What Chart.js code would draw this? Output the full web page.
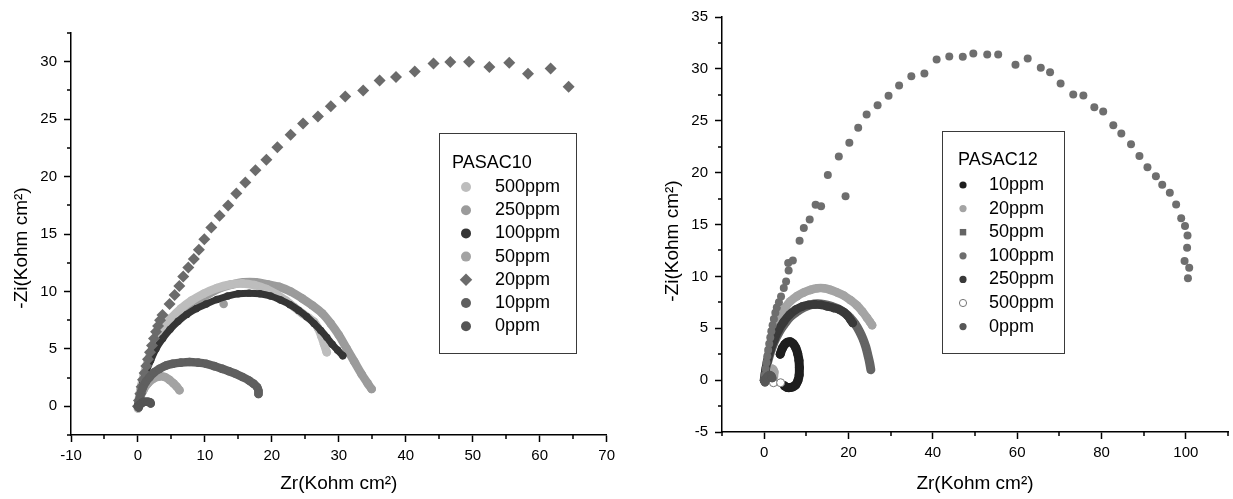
<!DOCTYPE html>
<html><head><meta charset="utf-8">
<script src="https://cdn.jsdelivr.net/npm/chart.js@4.4.1/dist/chart.umd.min.js"></script>
<style>
html,body{margin:0;padding:0;background:#fff;}
#wrap{position:relative;width:1233px;height:499px;overflow:hidden;background:#fff;}
#c1{position:absolute;left:0;top:0;}
#c2{position:absolute;left:620px;top:0;}
</style></head><body>
<div id="wrap"><canvas id="c1" width="620" height="499"></canvas><canvas id="c2" width="613" height="499"></canvas></div>
<script>
// ---------- LEFT CHART DATA (PASAC10) ----------
const leftTitle = 'PASAC10';
const leftXTicks = [-10, 0, 10, 20, 30, 40, 50, 60, 70];
const leftXMinor = [-5, 5, 15, 25, 35, 45, 55, 65];
const leftYTicks = [0, 5, 10, 15, 20, 25, 30];
const leftYMinor = [-2.5, 2.5, 7.5, 12.5, 17.5, 22.5, 27.5, 32.5];
const leftLabels = ['500ppm', '250ppm', '100ppm', '50ppm', '20ppm', '10ppm', '0ppm'];
const left500 = [[0,-0.2],[0.2,0.9],[0.5,1.8],[0.9,2.8],[1.4,3.8],[2.0,4.8],[2.8,5.8],[3.8,6.8],[5.0,7.7],[6.4,8.5],[8.0,9.2],[9.8,9.8],[11.8,10.3],[13.8,10.6],[15.6,10.7],[17.4,10.55],[19.2,10.2],[20.8,9.7],[22.1,9.2],[23.3,8.65],[24.5,8.1],[25.5,7.7],[26.3,7.35],[26.9,6.8],[27.4,6.1],[27.8,5.4],[28.2,4.7]];
const left250 = [[0,0],[0.4,1.4],[1.0,2.8],[1.7,4.0],[2.5,5.1],[3.5,6.1],[4.7,7.0],[6.0,7.8],[7.4,8.5],[9.0,9.2],[10.6,9.8],[12.3,10.3],[14.0,10.6],[15.8,10.8],[17.6,10.8],[19.4,10.6],[21.1,10.4],[22.8,10.0],[24.5,9.4],[26.0,8.8],[27.5,8.1],[28.8,7.2],[30.0,6.2],[31.2,5.0],[32.3,3.9],[33.4,2.8],[34.3,2.0],[34.9,1.5],[12.8,null],[12.8,8.9]];
const left100 = [[0,0],[0.3,1.0],[0.7,2.0],[1.2,3.0],[1.9,4.0],[2.7,5.0],[3.7,5.9],[4.8,6.7],[6.0,7.4],[7.3,8.0],[8.7,8.5],[10.2,8.9],[11.8,9.3],[13.4,9.6],[15.0,9.8],[16.6,9.85],[18.2,9.8],[19.8,9.6],[21.3,9.25],[22.7,8.85],[24.0,8.35],[25.2,7.8],[26.3,7.2],[27.3,6.6],[28.2,6.0],[29.0,5.4],[29.8,4.9],[30.6,4.4]];
const left50 = [[0,0],[0.3,0.7],[0.8,1.4],[1.5,2.0],[2.3,2.4],[3.2,2.6],[4.0,2.55],[4.7,2.3],[5.3,2.0],[5.8,1.7],[6.2,1.4]];
const left20 = [[0,0],[0.15,0.5],[0.35,1.1],[0.55,1.7],[0.75,2.3],[1.0,2.9],[1.25,3.5],[1.5,4.1],[1.8,4.7],[2.1,5.3],[2.4,5.9],[2.7,6.5],[3.0,7.0],[3.3,7.5],[3.67,7.94],[4.72,8.9],[5.48,9.69],[6.18,10.47],[6.76,11.29],[7.52,12.08],[8.34,12.83],[9.1,13.62],[9.91,14.55],[10.96,15.57],[12.19,16.58],[13.47,17.49],[14.69,18.53],[16.03,19.49],[17.55,20.54],[19.18,21.47],[20.82,22.55],[22.8,23.65],[24.66,24.61],[26.88,25.23],[28.8,26.13],[30.96,26.97],[33.64,27.49],[36.09,28.37],[38.54,28.66],[41.34,29.15],[44.14,29.85],[46.65,29.97],[49.45,30.0],[52.48,29.53],[55.45,29.91],[58.25,28.95],[61.63,29.42],[64.32,27.81]];
const left10 = [[0,0],[0.3,0.8],[0.75,1.66],[1.2,2.15],[1.73,2.53],[2.4,2.95],[3.2,3.26],[4.2,3.55],[5.2,3.7],[6.4,3.8],[7.7,3.85],[9.0,3.8],[10.2,3.7],[11.4,3.5],[12.6,3.26],[13.6,3.05],[14.6,2.83],[15.6,2.55],[16.6,2.24],[17.3,1.95],[17.8,1.66],[18.0,1.35],[18.0,1.08]];
const left0 = [[0,0],[0.1,-0.1],[0.3,0.15],[0.6,0.3],[0.9,0.38],[1.2,0.4],[1.5,0.4],[1.8,0.35],[1.9,0.25]];

// ---------- RIGHT CHART DATA (PASAC12) ----------
const rightTitle = 'PASAC12';
const rightXTicks = [0, 20, 40, 60, 80, 100];
const rightXMinor = [-10, 10, 30, 50, 70, 90, 110];
const rightYTicks = [-5, 0, 5, 10, 15, 20, 25, 30, 35];
const rightYMinor = [-2.5, 2.5, 7.5, 12.5, 17.5, 22.5, 27.5, 32.5];
const rightLabels = ['10ppm', '20ppm', '50ppm', '100ppm', '250ppm', '500ppm', '0ppm'];
const right10 = [[3.8,2.5],[4.3,3.05],[4.9,3.45],[5.5,3.65],[6.2,3.7],[6.9,3.5],[7.5,3.1],[7.95,2.55],[8.25,1.9],[8.35,1.2],[8.3,0.5],[8.0,-0.05],[7.5,-0.45],[6.8,-0.65],[6.1,-0.72],[5.4,-0.7],[4.8,-0.55]];
const right20 = [[0,0],[0.4,1.2],[1.0,2.5],[1.8,3.8],[2.8,5.2],[3.9,6.3],[5.0,7.0],[6.2,7.6],[7.8,8.1],[9.4,8.45],[11.0,8.7],[12.6,8.85],[14.2,8.85],[15.7,8.7],[17.3,8.45],[18.9,8.15],[20.5,7.7],[22.0,7.2],[23.3,6.6],[24.4,6.0],[25.1,5.6],[25.6,5.3],[1.2,null],[1.2,0.9],[1.9,1.1],[2.4,0.8],[2.3,0.3]];
const right50 = [[0,0],[0.3,0.8],[0.8,1.7],[1.5,2.7],[2.4,3.7],[3.5,4.6],[4.8,5.4],[6.2,6.1],[7.8,6.6],[9.4,7.0],[11.0,7.25],[12.6,7.35],[14.2,7.3],[15.8,7.15],[17.4,6.9],[19.0,6.5],[20.4,6.0],[21.6,5.4],[22.6,4.7],[23.4,4.0],[24.1,3.2],[24.6,2.4],[25.0,1.7],[25.3,1.0]];
const right100 = [[0,0],[0.15,0.5],[0.35,1.1],[0.55,1.7],[0.75,2.3],[0.95,2.9],[1.2,3.5],[1.45,4.1],[1.7,4.7],[2.0,5.3],[2.3,5.9],[2.65,6.5],[3.0,7.0],[3.5,7.5],[4.0,8.06],[4.65,8.87],[5.2,9.51],[5.8,10.57],[5.7,11.28],[6.8,11.54],[8.4,13.44],[9.4,14.67],[10.8,15.47],[12.2,16.9],[13.5,16.76],[15.1,19.76],[19.3,17.73],[17.7,21.55],[20.2,22.89],[22.3,24.33],[24.3,25.6],[26.9,26.5],[29.5,27.4],[32.0,28.4],[34.9,29.3],[38.0,29.55],[40.9,30.9],[43.9,31.2],[47.1,31.16],[49.6,31.48],[52.9,31.38],[55.5,31.38],[59.6,30.39],[62.5,31.0],[65.6,30.1],[67.8,29.68],[70.3,28.6],[73.3,27.54],[75.7,27.44],[78.3,26.3],[80.4,25.9],[82.8,24.56],[84.7,23.76],[87.0,22.73],[89.0,21.6],[90.9,20.53],[92.9,19.66],[94.4,18.83],[96.2,18.05],[97.7,16.92],[98.9,15.6],[99.8,14.86],[100.4,13.93],[100.3,12.77],[99.7,11.48],[100.8,10.83],[100.5,9.83]];
const right250 = [[0,0],[0.3,0.9],[0.8,1.9],[1.5,2.9],[2.4,3.9],[3.4,4.8],[4.6,5.6],[6.0,6.3],[7.5,6.8],[9.0,7.1],[10.5,7.25],[12.0,7.3],[13.5,7.25],[15.0,7.1],[16.5,6.95],[17.8,6.8],[18.9,6.55],[19.8,6.2],[20.5,5.8],[21.0,5.5]];
const right500 = [[0.5,0.1],[2.2,-0.25],[3.9,-0.25]];
const right0 = [[0,0],[0.2,-0.2],[0.5,0.2],[0.9,0.4],[1.3,0.5],[1.7,0.4],[1.9,0.2]];

// ---------- helpers ----------
const FONT = '"Liberation Sans", Arial, Helvetica, sans-serif';
const AXIS_X_TITLE = 'Zr(Kohm cm²)';
const AXIS_Y_TITLE = '-Zi(Kohm cm²)';
const pts = a => a.map(p => ({x: p[0], y: p[1]}));

function band(label, data, color, r, order, lw) {
  return {label, data: pts(data), showLine: true, borderColor: color, backgroundColor: color,
    borderWidth: lw, pointRadius: r, pointHoverRadius: r, pointBorderWidth: 0, pointStyle: 'circle',
    tension: 0.35, borderCapStyle: 'round', borderJoinStyle: 'round', spanGaps: false, order};
}
function dots(label, data, color, r, style, order, border, bw) {
  return {label, data: pts(data), showLine: false, backgroundColor: color, borderColor: border || color,
    pointRadius: r, pointHoverRadius: r, pointBorderWidth: bw || 0, pointStyle: style, order};
}

function drawMarker(ctx, style, x, y, r, fill, stroke, bw) {
  ctx.beginPath();
  if (style === 'rectRot') {
    ctx.moveTo(x - r, y); ctx.lineTo(x, y - r); ctx.lineTo(x + r, y); ctx.lineTo(x, y + r); ctx.closePath();
  } else if (style === 'rect') {
    ctx.rect(x - r, y - r, 2 * r, 2 * r);
  } else {
    ctx.arc(x, y, r, 0, Math.PI * 2);
  }
  ctx.fillStyle = fill; ctx.fill();
  if (bw) { ctx.lineWidth = bw; ctx.strokeStyle = stroke; ctx.stroke(); }
}

const boxLegend = {
  id: 'boxLegend',
  afterDraw(chart, args, o) {
    const ctx = chart.ctx;
    ctx.save();
    ctx.strokeStyle = '#3a3a3a'; ctx.lineWidth = 1;
    ctx.strokeRect(o.left + 0.5, o.top + 0.5, o.width, o.height);
    ctx.font = o.fontSize + 'px ' + FONT;
    ctx.textBaseline = 'middle'; ctx.textAlign = 'left'; ctx.fillStyle = '#000';
    ctx.fillText(o.title, o.titleX, o.titleY);
    chart.data.datasets.forEach((ds, i) => {
      const y = o.firstY + i * o.step;
      const r = ds.pointStyle === 'rectRot' ? o.r * 1.25 : (ds.pointStyle === 'rect' ? o.r * 0.9 : o.r);
      drawMarker(ctx, ds.pointStyle, o.markerX, y, r, ds.backgroundColor, ds.borderColor, ds.pointBorderWidth);
      ctx.fillStyle = '#000';
      ctx.fillText(ds.label, o.textX, y);
    });
    ctx.restore();
  }
};

const minorTicks = {
  id: 'minorTicks',
  afterDraw(chart, args, o) {
    const ctx = chart.ctx, xs = chart.scales.x, ys = chart.scales.y;
    ctx.save();
    ctx.strokeStyle = '#000'; ctx.lineWidth = 1.5;
    ctx.beginPath();
    o.x.forEach(v => { const px = Math.round(xs.getPixelForValue(v)); ctx.moveTo(px, xs.top); ctx.lineTo(px, xs.top + o.len); });
    o.y.forEach(v => { const py = Math.round(ys.getPixelForValue(v)); ctx.moveTo(ys.right, py); ctx.lineTo(ys.right - o.len, py); });
    ctx.stroke();
    ctx.restore();
  }
};

// vertical axis title drawn next to the y scale (rotated), placed like the original
const yAxisTitle = {
  id: 'yAxisTitle',
  afterDraw(chart, args, o) {
    const ctx = chart.ctx;
    ctx.save();
    ctx.translate(o.x, o.y);
    ctx.rotate(-Math.PI / 2);
    ctx.font = o.size + 'px ' + FONT;
    ctx.fillStyle = '#000'; ctx.textAlign = 'center'; ctx.textBaseline = 'middle';
    ctx.fillText(o.text, 0, 0);
    ctx.restore();
  }
};

function axisCfg(min, max, ticksArr, isX, fitSize, titleText, titlePad) {
  return {
    type: 'linear', min, max,
    afterBuildTicks: s => { s.ticks = ticksArr.map(v => ({value: v})); },
    afterFit: s => { if (isX) s.height = fitSize; else s.width = fitSize; },
    ticks: {font: {family: FONT, size: 15}, color: '#000', padding: isX ? 5 : 7, maxRotation: 0, autoSkip: false},
    grid: {display: true, drawOnChartArea: false, drawTicks: true, tickLength: 7, tickColor: '#000', tickWidth: 1.5},
    border: {display: true, color: '#000', width: 1.5},
    title: {display: isX, text: titleText, font: {family: FONT, size: 19}, color: '#000', padding: titlePad}
  };
}

const commonPlugins = {legend: {display: false}, tooltip: {enabled: false}};

new Chart(document.getElementById('c1'), {
  type: 'scatter',
  data: {datasets: [
    band(leftLabels[0], left500, '#bdbdbd', 4.3, 5, 8.5),
    band(leftLabels[1], left250, '#9b9b9b', 4.3, 6, 8.5),
    band(leftLabels[2], left100, '#353535', 3.7, 4, 7),
    band(leftLabels[3], left50, '#a3a3a3', 4.3, 3, 8.5),
    dots(leftLabels[4], left20, '#6b6b6b', 6, 'rectRot', 2),
    band(leftLabels[5], left10, '#5f5f5f', 4.3, 1, 8.5),
    band(leftLabels[6], left0, '#555555', 4.3, 0, 8.5)
  ]},
  options: {
    responsive: false, animation: false, events: [],
    layout: {padding: {left: 0, top: 33, right: 10, bottom: 0}},
    scales: {
      x: axisCfg(-10, 70, leftXTicks, true, 64, AXIS_X_TITLE, {top: 0, bottom: 4}),
      y: axisCfg(-2.5, 32.5, leftYTicks, false, 71, AXIS_Y_TITLE, {top: 10, bottom: 0})
    },
    plugins: Object.assign({}, commonPlugins, {
      boxLegend: {left: 439, top: 133, width: 137, height: 220, title: leftTitle, titleX: 452, titleY: 163,
        markerX: 466, textX: 495, firstY: 187, step: 23.2, r: 5, fontSize: 18},
      minorTicks: {x: leftXMinor, y: leftYMinor, len: 4},
      yAxisTitle: {text: AXIS_Y_TITLE, x: 22, y: 248, size: 19}
    })
  },
  plugins: [boxLegend, minorTicks, yAxisTitle]
});

new Chart(document.getElementById('c2'), {
  type: 'scatter',
  data: {datasets: [
    band(rightLabels[0], right10, '#1e1e1e', 4.5, 2, 9),
    band(rightLabels[1], right20, '#a4a4a4', 4.3, 5, 8.5),
    Object.assign(band(rightLabels[2], right50, '#646464', 4.5, 6, 9), {pointStyle: 'rect'}),
    dots(rightLabels[3], right100, '#6e6e6e', 4, 'circle', 3),
    band(rightLabels[4], right250, '#393939', 4.3, 4, 8.5),
    dots(rightLabels[5], right500, '#ffffff', 4, 'circle', 1, '#777777', 1),
    band(rightLabels[6], right0, '#575757', 4.3, 0, 8.5)
  ]},
  options: {
    responsive: false, animation: false, events: [],
    layout: {padding: {left: 0, top: 17, right: 3, bottom: 0}},
    scales: {
      x: axisCfg(-10, 110, rightXTicks, true, 67, AXIS_X_TITLE, {top: 0, bottom: 4}),
      y: axisCfg(-5, 35, rightYTicks, false, 102, AXIS_Y_TITLE, {top: 41, bottom: 0})
    },
    plugins: Object.assign({}, commonPlugins, {
      boxLegend: {left: 322, top: 131, width: 122, height: 222, title: rightTitle, titleX: 338, titleY: 160,
        markerX: 343, textX: 369, firstY: 185, step: 23.6, r: 3.6, fontSize: 18},
      minorTicks: {x: rightXMinor, y: rightYMinor, len: 4},
      yAxisTitle: {text: AXIS_Y_TITLE, x: 53, y: 241, size: 19}
    })
  },
  plugins: [boxLegend, minorTicks, yAxisTitle]
});
</script>
</body></html>
